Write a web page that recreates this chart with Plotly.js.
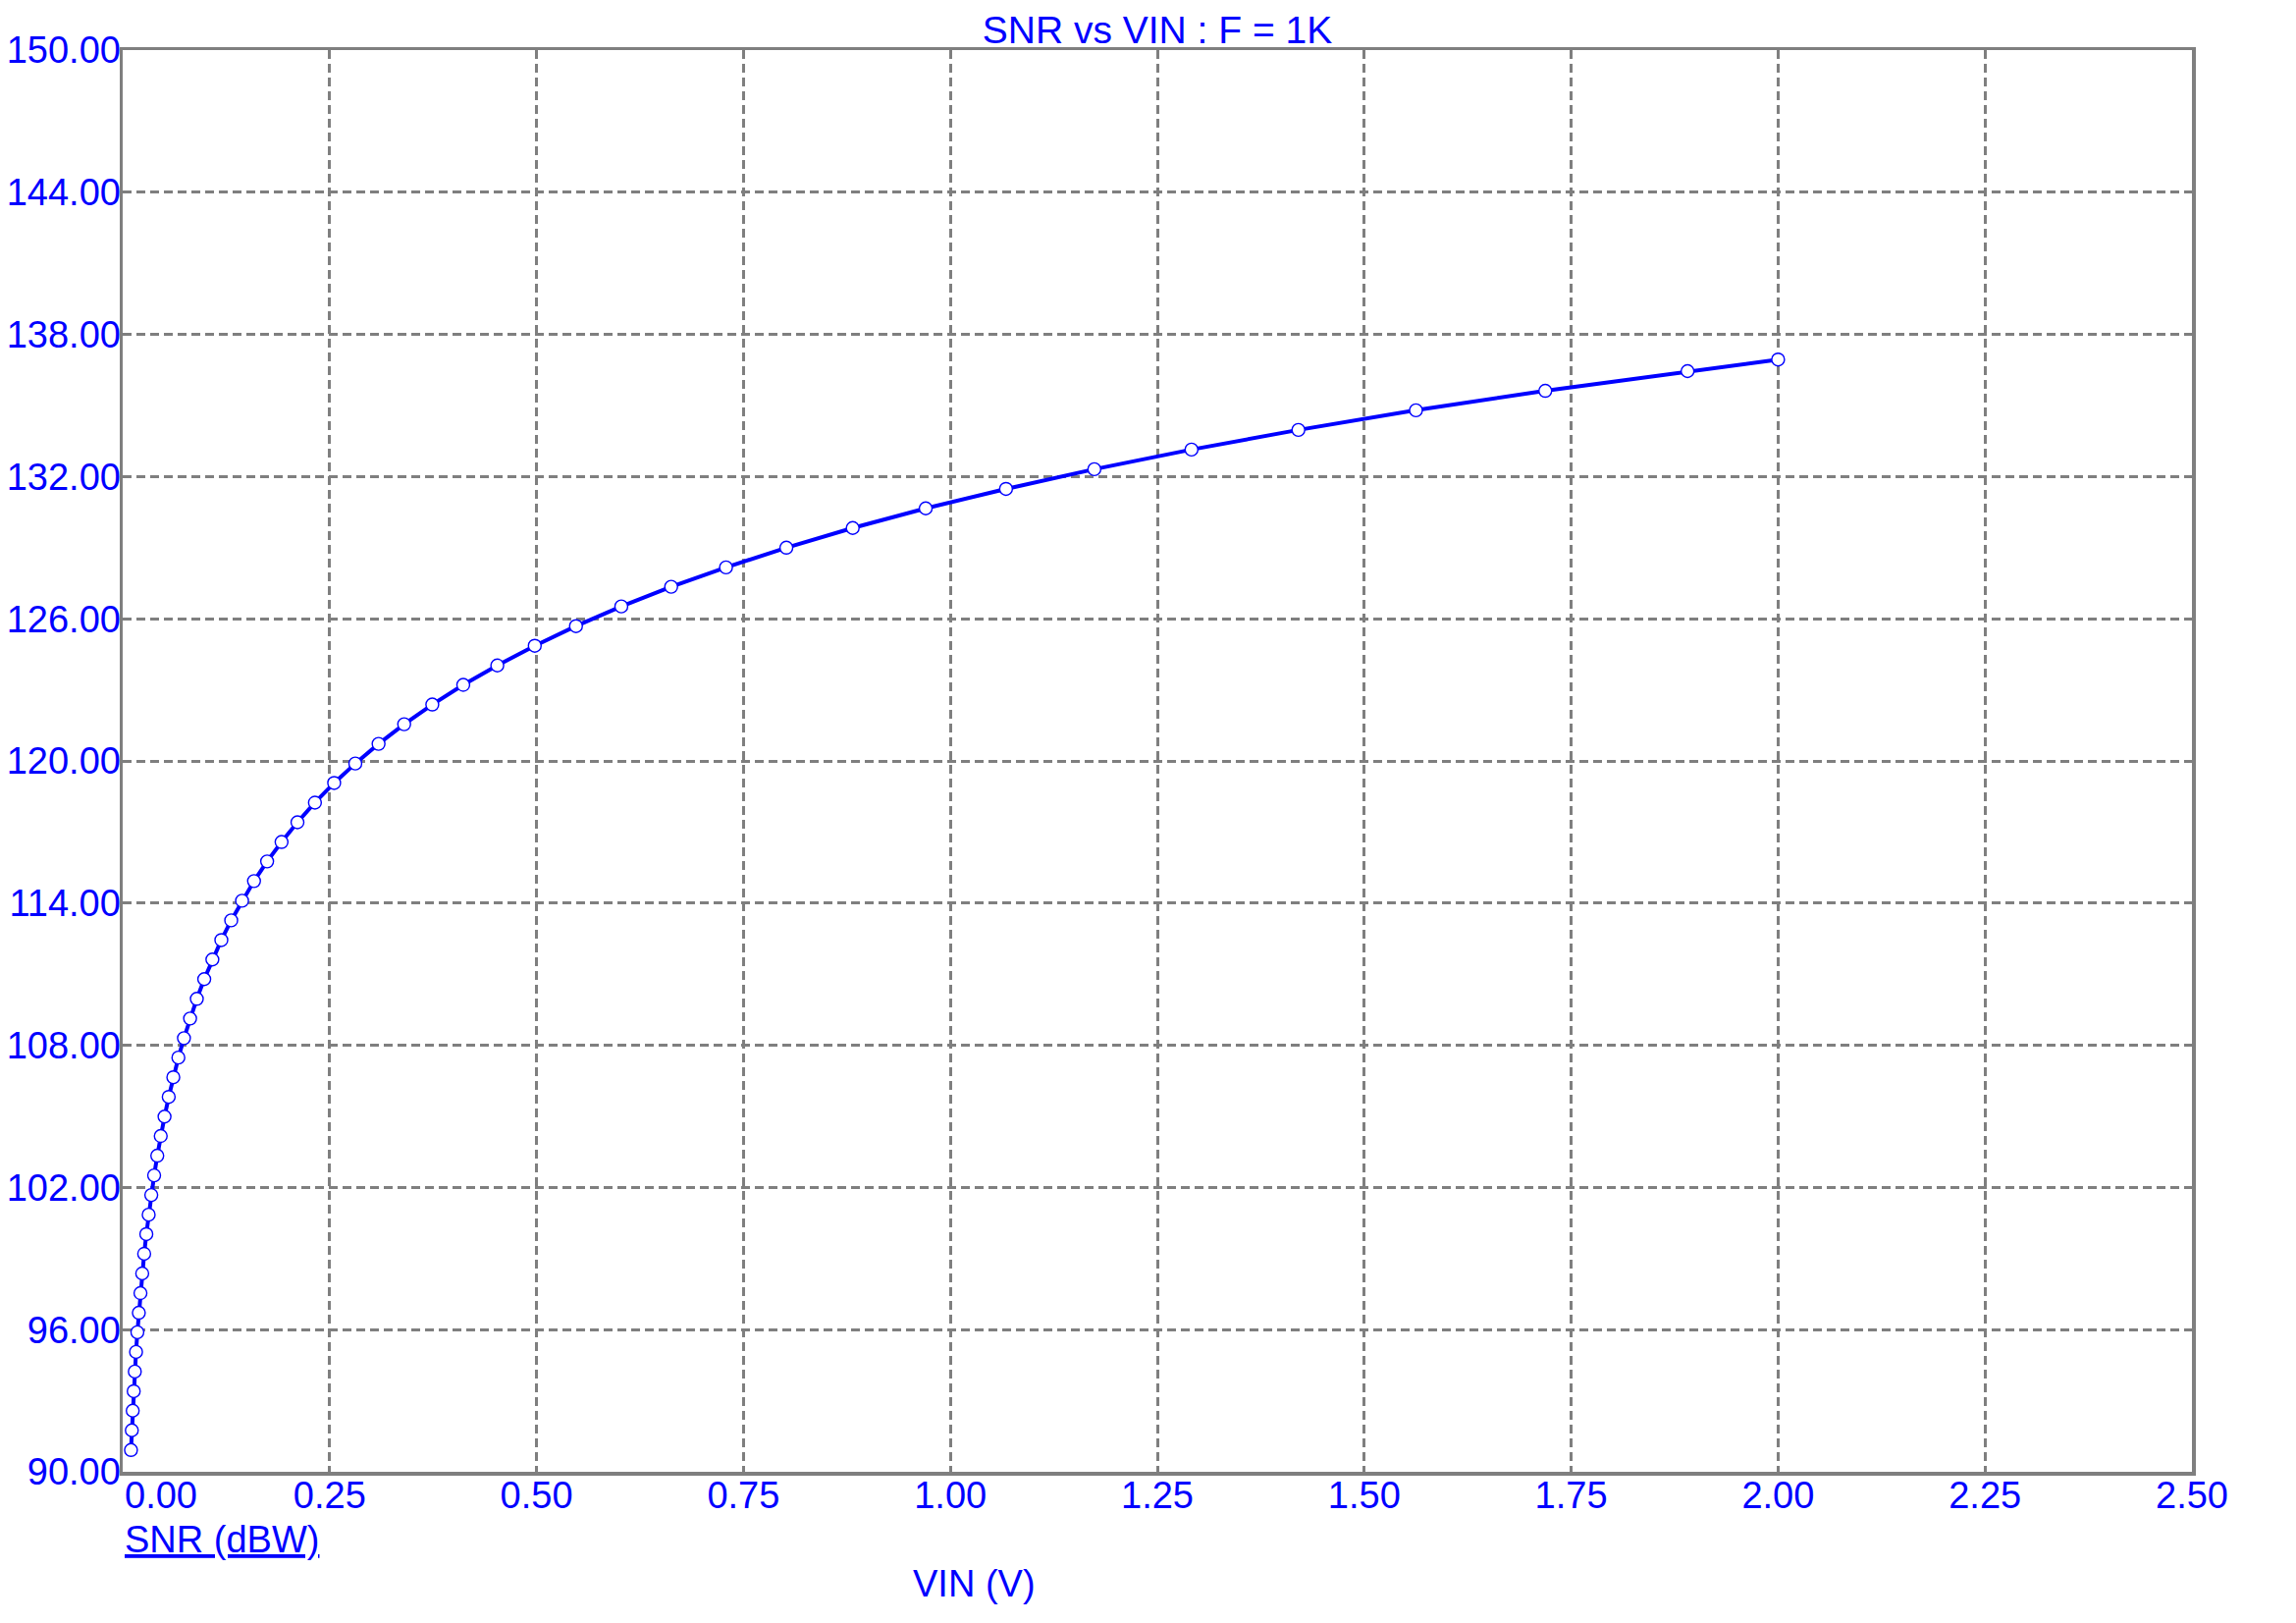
<!DOCTYPE html>
<html>
<head>
<meta charset="utf-8">
<script src="https://cdn.plot.ly/plotly-3.0.1.min.js"></script>
<style>html,body{margin:0;padding:0;background:#fff;}#chart{width:2339px;height:1653px;}</style>
</head>
<body>
<div id="chart"></div>
<script>
// VIN sweep (V) and SNR (dBW)
const vin = [0.01, 0.011, 0.0121, 0.01331, 0.01464, 0.01611, 0.01772, 0.01949, 0.02144, 0.02358,
  0.02594, 0.02853, 0.03138, 0.03452, 0.03797, 0.04177, 0.04595, 0.05054, 0.0556, 0.06116,
  0.06727, 0.074, 0.0814, 0.08954, 0.0985, 0.10835, 0.11918, 0.1311, 0.14421, 0.15863,
  0.17449, 0.19194, 0.21114, 0.23225, 0.25548, 0.28102, 0.30913, 0.34004, 0.37404, 0.41145,
  0.45259, 0.49785, 0.54764, 0.6024, 0.66264, 0.7289, 0.8018, 0.88198, 0.97017, 1.06719,
  1.17391, 1.2913, 1.42043, 1.56247, 1.71872, 1.89059, 2.0];
const snr = [90.92, 91.75, 92.58, 93.40, 94.23, 95.06, 95.89, 96.71, 97.54, 98.37,
  99.20, 100.03, 100.85, 101.68, 102.51, 103.34, 104.17, 104.99, 105.82, 106.65,
  107.48, 108.30, 109.13, 109.96, 110.79, 111.62, 112.44, 113.27, 114.10, 114.93,
  115.76, 116.58, 117.41, 118.24, 119.07, 119.89, 120.72, 121.55, 122.38, 123.21,
  124.03, 124.86, 125.69, 126.52, 127.35, 128.17, 129.00, 129.83, 130.66, 131.48,
  132.31, 133.14, 133.97, 134.80, 135.62, 136.45, 136.94];
const xTicks = [0, 0.25, 0.5, 0.75, 1.0, 1.25, 1.5, 1.75, 2.0, 2.25, 2.5];
const xTickLabels = ['0.00', '0.25', '0.50', '0.75', '1.00', '1.25', '1.50', '1.75', '2.00', '2.25', '2.50'];
const yTicks = [90, 96, 102, 108, 114, 120, 126, 132, 138, 144, 150];
const yTickLabels = ['90.00', '96.00', '102.00', '108.00', '114.00', '120.00', '126.00', '132.00', '138.00', '144.00', '150.00'];
const chartTitle = 'SNR vs VIN : F = 1K';
const xTitle = 'VIN (V)';
const seriesName = 'SNR (dBW)';

const BLUE = '#0000ff';
const GRID = '#7f7f7f';
const FONT = 'Liberation Sans, Arial, sans-serif';

const W = 2339, H = 1653;
const L = 125, R = 106, T = 51, B = 154;

const trace = {
  x: vin, y: snr, type: 'scatter', mode: 'lines+markers', name: seriesName,
  line: {color: BLUE, width: 4},
  marker: {symbol: 'circle', size: 13, color: '#ffffff', line: {color: BLUE, width: 1.4}},
  cliponaxis: false
};

const axisCommon = {
  showline: true, mirror: true, linecolor: GRID, linewidth: 3.5,
  showgrid: true, gridcolor: GRID, gridwidth: 3, griddash: '9px,5px',
  zeroline: false, ticks: '', tickfont: {family: FONT, size: 38, color: BLUE}
};

const layout = {
  width: W, height: H,
  margin: {l: L, r: R, t: T, b: B, pad: 0},
  paper_bgcolor: '#ffffff', plot_bgcolor: '#ffffff',
  showlegend: false,
  title: {text: chartTitle, font: {family: FONT, size: 39, color: BLUE},
    x: (L + (W - L - R) / 2) / W, xanchor: 'center', xref: 'container',
    y: 1 - 30 / H, yanchor: 'middle', yref: 'container'},
  xaxis: Object.assign({}, axisCommon, {
    range: [0, 2.5], tickmode: 'array', tickvals: xTicks,
    ticktext: xTickLabels.map((t, i) => i === 0 ? '' : t),
    ticklabelstandoff: -12
  }),
  yaxis: Object.assign({}, axisCommon, {
    range: [90, 150], tickmode: 'array', tickvals: yTicks, ticktext: yTickLabels,
    ticklabelstandoff: -9
  }),
  annotations: [
    {text: xTickLabels[0], x: xTicks[0], xref: 'x', xanchor: 'left',
     y: 1 - (1523 - T) / (H - T - B), yref: 'paper', yanchor: 'middle',
     showarrow: false, font: {family: FONT, size: 38, color: BLUE}},
    {text: '<u>' + seriesName + '</u>', x: 0, xref: 'paper', xanchor: 'left',
     y: 1 - (1568 - T) / (H - T - B), yref: 'paper', yanchor: 'middle',
     showarrow: false, font: {family: FONT, size: 38, color: BLUE}},
    {text: xTitle, x: (992 - L) / (W - L - R), xref: 'paper', xanchor: 'center',
     y: 1 - (1613 - T) / (H - T - B), yref: 'paper', yanchor: 'middle',
     showarrow: false, font: {family: FONT, size: 38, color: BLUE}}
  ]
};

Plotly.newPlot('chart', [trace], layout, {displayModeBar: false, staticPlot: true});
</script>
</body>
</html>
